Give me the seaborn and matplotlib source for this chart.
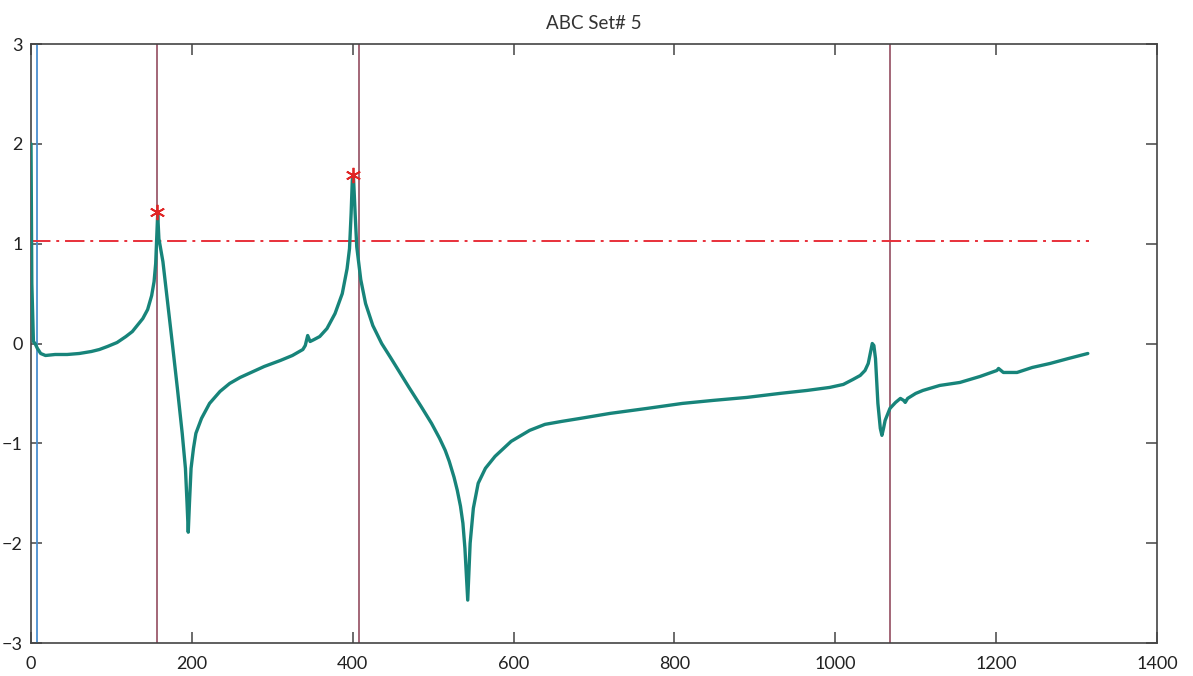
import matplotlib
matplotlib.use("Agg")
import matplotlib.pyplot as plt
import pandas as pd
import seaborn as sns

# curva principal
x_sinal = [0, 1, 3, 5, 8, 12, 18, 30, 45, 60, 75, 85, 95, 107, 118, 126, 133, 139, 145, 150,
           153, 155, 156.5, 157.5, 159, 164, 170, 176, 182, 188, 192, 194, 195.5, 197, 199, 202,
           205, 212, 222, 235, 247, 260, 271, 290, 310, 325, 338, 341, 344, 347, 352, 359, 368,
           378, 387, 393, 396, 398, 399.5, 401, 403, 405, 410, 416, 425, 436, 447, 457, 470, 485,
           498, 508, 515, 520, 526, 530, 534, 537, 539.5, 541.5, 543, 546, 550, 556, 565, 577,
           597, 620, 639, 660, 683, 720, 766, 810, 848, 890, 931, 965, 993, 1010, 1022, 1031,
           1037, 1041, 1044, 1046, 1048, 1050, 1053, 1056, 1058, 1060, 1062, 1068, 1075, 1081,
           1085, 1087, 1090, 1100, 1109, 1130, 1155, 1180, 1201, 1203, 1206, 1209, 1226, 1245,
           1267, 1290, 1314]
y_sinal = [2.0, 0.6, 0.02, 0.0, -0.05, -0.1, -0.12, -0.11, -0.11, -0.1, -0.08, -0.06, -0.03, 0.01,
           0.07, 0.12, 0.19, 0.25, 0.34, 0.48, 0.62, 0.8, 1.1, 1.3, 1.05, 0.82, 0.4, -0.02, -0.45,
           -0.9, -1.25, -1.6, -1.89, -1.6, -1.25, -1.05, -0.9, -0.75, -0.6, -0.48, -0.4, -0.34,
           -0.3, -0.23, -0.17, -0.12, -0.06, -0.02, 0.08, 0.02, 0.04, 0.07, 0.15, 0.3, 0.5, 0.75,
           0.95, 1.3, 1.64, 1.66, 1.3, 0.97, 0.64, 0.4, 0.18, 0.0, -0.14, -0.27, -0.44, -0.63,
           -0.8, -0.95, -1.07, -1.18, -1.34, -1.47, -1.63, -1.8, -2.05, -2.35, -2.57, -2.0, -1.65,
           -1.4, -1.25, -1.13, -0.98, -0.87, -0.81, -0.78, -0.75, -0.7, -0.65, -0.6, -0.57,
           -0.54, -0.5, -0.47, -0.44, -0.41, -0.36, -0.32, -0.27, -0.2, -0.08, 0.0, -0.02, -0.15,
           -0.6, -0.85, -0.92, -0.85, -0.77, -0.65, -0.59, -0.55, -0.57, -0.59, -0.55, -0.5,
           -0.47, -0.42, -0.39, -0.33, -0.27, -0.25, -0.27, -0.29, -0.29, -0.24, -0.2, -0.15, -0.1]
assert len(x_sinal) == len(y_sinal)

# picos marcados
x_picos = [157, 400]
y_picos = [1.32, 1.69]

# linhas verticais e limiar
x_azul = [7.5]
x_vermelhas = [157, 408, 1068]
limiar = 1.03
x_limiar = [0, 1316]

titulo = "ABC Set# 5"

sns.set_style("ticks")
plt.rcParams["font.family"] = ["Lato", "DejaVu Sans"]

df = pd.DataFrame({"x": x_sinal, "y": y_sinal})

fig = plt.figure(figsize=(11.93, 6.76), dpi=100)
ax = fig.add_axes([0.026, 0.0488, 0.9438, 0.8861])

for xv in x_vermelhas:
    ax.axvline(xv, color="#8a3d52", linewidth=1.1, zorder=1)
for xv in x_azul:
    ax.axvline(xv, color="#4a8fd0", linewidth=1.3, zorder=1)

sns.lineplot(data=df, x="x", y="y", sort=False, estimator=None,
             color="#17847a", linewidth=2.4, ax=ax, zorder=3)

sns.lineplot(x=x_limiar, y=[limiar, limiar], color="#e8303a", linewidth=1.4,
             linestyle=(0, (10, 3, 1.5, 3)), ax=ax, zorder=2)

ax.plot(x_picos, y_picos, linestyle="none", marker=(6, 2, 0), markersize=11,
        markeredgecolor="#e02525", markeredgewidth=1.3, zorder=4)

ax.set_xlim(0, 1400)
ax.set_ylim(-3, 3)
ax.set_xticks(range(0, 1401, 200))
ax.set_yticks(range(-3, 4))
ax.set_xlabel("")
ax.set_ylabel("")
ax.set_title(titulo, fontsize=13.5, color="#333333", pad=11)

for lado in ["top", "right", "left", "bottom"]:
    ax.spines[lado].set_visible(True)
    ax.spines[lado].set_color("#444444")
    ax.spines[lado].set_linewidth(1.2)

ax.tick_params(direction="in", length=8, width=1.1, color="#444444",
               top=True, right=True, labelsize=13, labelcolor="#222222")
ax.tick_params(axis="x", pad=9)
ax.tick_params(axis="y", pad=6)

fig.savefig("out.png", dpi=100)
